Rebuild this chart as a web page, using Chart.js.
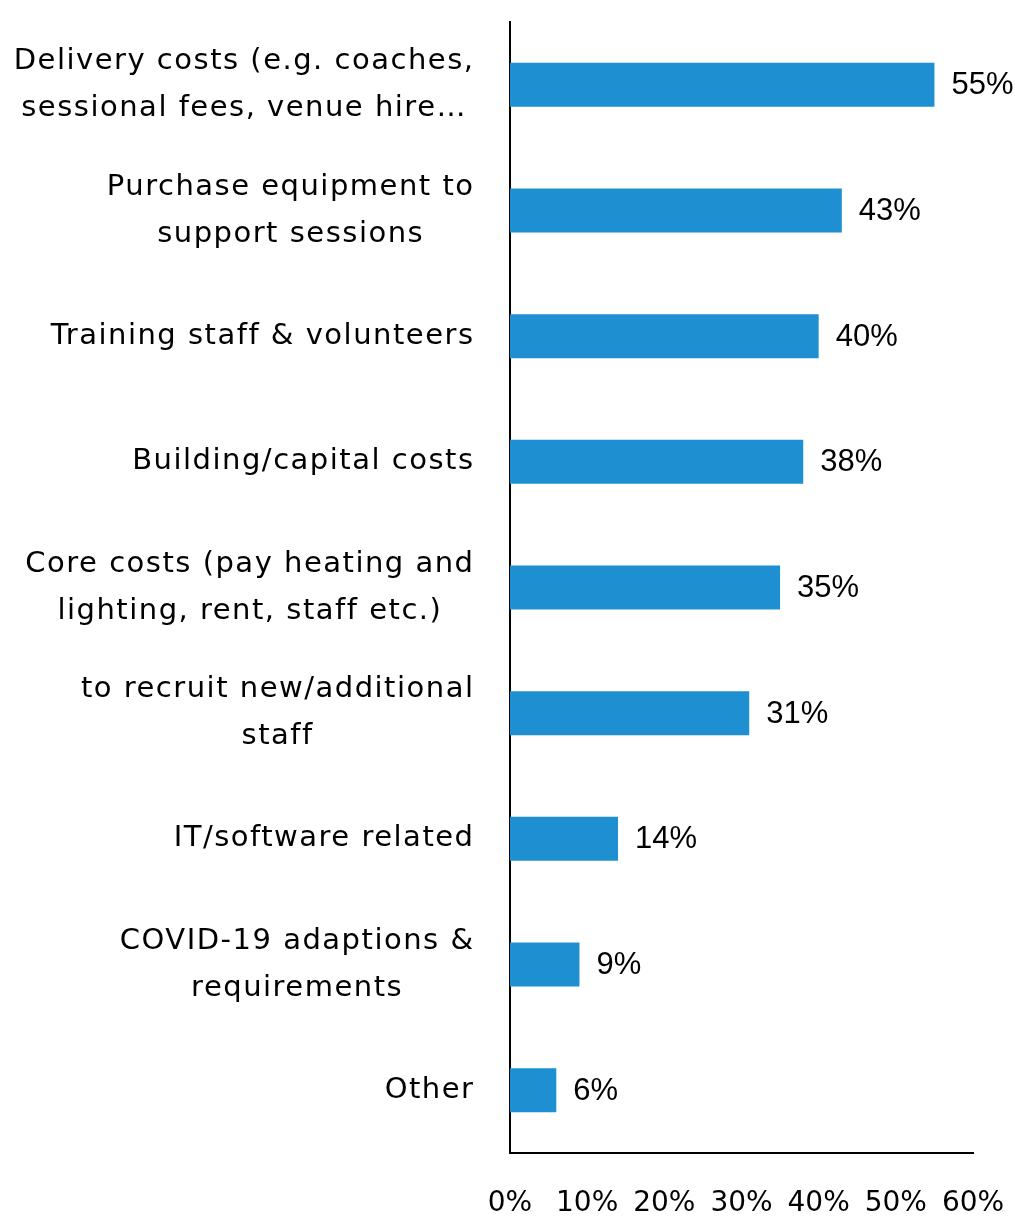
<!DOCTYPE html>
<html>
<head>
<meta charset="utf-8">
<script src="https://cdn.jsdelivr.net/npm/chart.js@4/dist/chart.umd.min.js"></script>
<style>
  html, body { margin: 0; padding: 0; background: #fff; }
  #wrap { width: 1015px; height: 1216px; }
</style>
</head>
<body>
<div id="wrap"><canvas id="c" width="1015" height="1216"></canvas></div>
<script>
// Funding uses, one entry per bar (top to bottom)
const categories = [
  ["Delivery costs (e.g. coaches,", "sessional fees, venue hire…"],
  ["Purchase equipment to", "support sessions"],
  ["Training staff & volunteers"],
  ["Building/capital costs"],
  ["Core costs (pay heating and", "lighting, rent, staff etc.)"],
  ["to recruit new/additional", "staff"],
  ["IT/software related"],
  ["COVID-19 adaptions &", "requirements"],
  ["Other"]
];
// Share of respondents, percent
const shares = [55, 43, 40, 38, 35, 31, 14, 9, 6];
// Value axis ticks, percent
const axisTicks = [0, 10, 20, 30, 40, 50, 60];

const LABEL_FONT = '29px "DejaVu Sans", sans-serif';
const LABEL_SPACING = 1.5;
const VALUE_FONT = '31px "Liberation Sans", Arial, sans-serif';

// Category labels: block right-aligned to the axis, lines centred within the block
const categoryLabels = {
  id: 'categoryLabels',
  afterDraw(chart) {
    const ctx = chart.ctx;
    const y = chart.scales.y;
    const right = y.right - 37;
    const lineH = 47;
    ctx.save();
    ctx.font = LABEL_FONT;
    ctx.letterSpacing = LABEL_SPACING + 'px';
    ctx.fillStyle = '#000';
    ctx.textAlign = 'left';
    ctx.textBaseline = 'middle';
    categories.forEach((lines, i) => {
      const widths = lines.map(l => ctx.measureText(l).width - LABEL_SPACING);
      const widest = Math.max(...widths);
      const cx = right - widest / 2;
      const cy = y.getPixelForValue(i);
      const y0 = cy - (lines.length - 1) * lineH / 2;
      lines.forEach((l, k) => ctx.fillText(l, cx - widths[k] / 2, y0 + k * lineH));
    });
    ctx.restore();
  }
};

// Value labels at the end of each bar
const valueLabels = {
  id: 'valueLabels',
  afterDatasetsDraw(chart) {
    const ctx = chart.ctx;
    const meta = chart.getDatasetMeta(0);
    ctx.save();
    ctx.font = VALUE_FONT;
    ctx.fillStyle = '#000';
    ctx.textAlign = 'left';
    ctx.textBaseline = 'middle';
    meta.data.forEach((bar, i) => {
      ctx.fillText(shares[i] + '%', bar.x + 17, bar.y + 1);
    });
    ctx.restore();
  }
};

new Chart(document.getElementById('c'), {
  type: 'bar',
  data: {
    labels: categories.map(l => l.join(' ')),
    datasets: [{
      data: shares,
      backgroundColor: '#1E8FD0',
      borderWidth: 0,
      barPercentage: 0.35,
      categoryPercentage: 1
    }]
  },
  options: {
    indexAxis: 'y',
    responsive: false,
    animation: false,
    layout: { padding: { top: 22, right: 42, left: 0, bottom: 0 } },
    plugins: { legend: { display: false }, tooltip: { enabled: false } },
    scales: {
      x: {
        min: axisTicks[0],
        max: axisTicks[axisTicks.length - 1],
        afterBuildTicks(scale) { scale.ticks = axisTicks.map(v => ({ value: v })); },
        grid: { display: false, drawTicks: false },
        border: { display: true, color: '#000', width: 2 },
        ticks: {
          padding: 34,
          color: '#000',
          font: { family: '"DejaVu Sans", sans-serif', size: 28 },
          maxRotation: 0,
          autoSkip: false,
          callback: v => v + '%'
        },
        afterFit(scale) {
          scale.height = 63;
          scale.paddingLeft = 0;
          scale.paddingRight = 0;
        }
      },
      y: {
        offset: true,
        grid: { display: false, drawTicks: false },
        border: { display: true, color: '#000', width: 2 },
        ticks: { display: false },
        afterFit(scale) { scale.width = 510; }
      }
    }
  },
  plugins: [categoryLabels, valueLabels]
});
</script>
</body>
</html>
